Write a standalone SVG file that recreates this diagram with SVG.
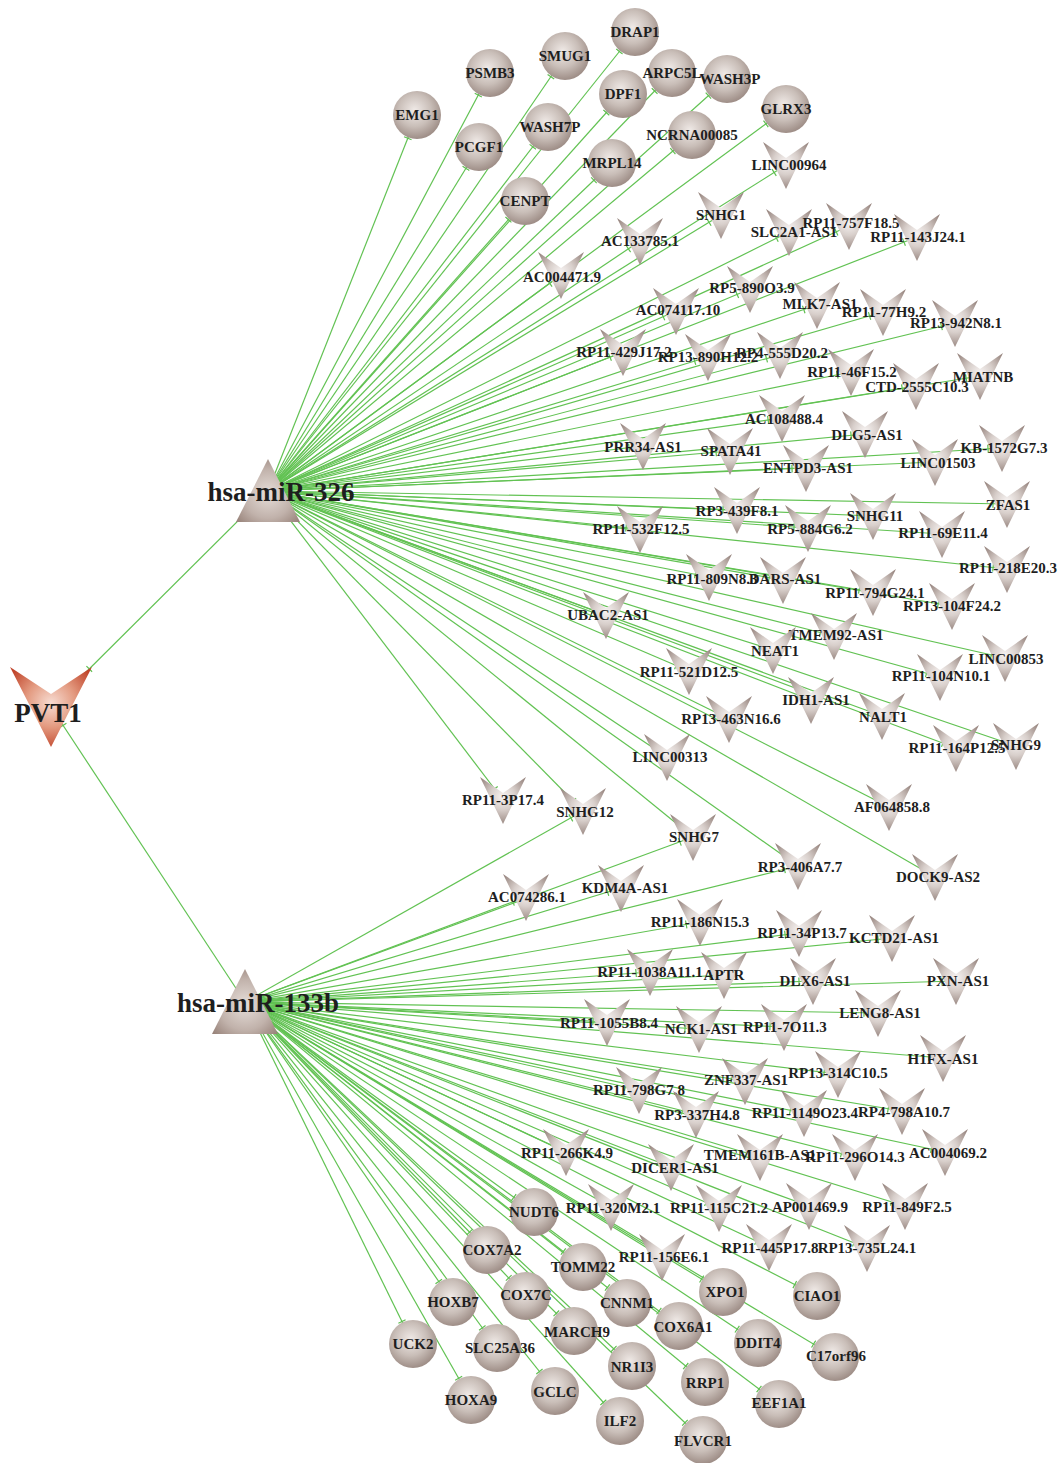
<svg xmlns="http://www.w3.org/2000/svg" xmlns:xlink="http://www.w3.org/1999/xlink" width="1064" height="1463" viewBox="0 0 1064 1463">
<defs>
<radialGradient id="gv" cx="0.5" cy="0.42" r="0.6"><stop offset="0" stop-color="#f7f3f2"/><stop offset="0.45" stop-color="#d8cfcb"/><stop offset="1" stop-color="#988680"/></radialGradient>
<radialGradient id="gc" cx="0.45" cy="0.4" r="0.62"><stop offset="0" stop-color="#f0eae7"/><stop offset="0.55" stop-color="#c9beb8"/><stop offset="1" stop-color="#9b8a83"/></radialGradient>
<radialGradient id="gt" cx="0.5" cy="0.55" r="0.65"><stop offset="0" stop-color="#e6ded9"/><stop offset="0.6" stop-color="#c1b2ab"/><stop offset="1" stop-color="#98837a"/></radialGradient>
<radialGradient id="gp" cx="0.5" cy="0.45" r="0.6"><stop offset="0" stop-color="#f7dcd2"/><stop offset="0.5" stop-color="#e39a80"/><stop offset="1" stop-color="#c0442a"/></radialGradient>
<path id="vs" d="M-23,-23 L0,-7 L23,-23 L0,24 Z" fill="url(#gv)"/>
<marker id="tv" markerUnits="userSpaceOnUse" markerWidth="30" markerHeight="12" refX="15" refY="6" orient="auto"><path d="M1,2 L1,10" stroke="#5fbf50" stroke-width="1.2"/></marker>
<marker id="tc" markerUnits="userSpaceOnUse" markerWidth="30" markerHeight="12" refX="26" refY="6" orient="auto"><path d="M1,2 L1,10" stroke="#5fbf50" stroke-width="1.2"/></marker>
<marker id="tp1" markerUnits="userSpaceOnUse" markerWidth="60" markerHeight="12" refX="55" refY="6" orient="auto"><path d="M1,2 L1,10" stroke="#5fbf50" stroke-width="1.2"/></marker>
<marker id="tp2" markerUnits="userSpaceOnUse" markerWidth="30" markerHeight="12" refX="23" refY="6" orient="auto"><path d="M1,2 L1,10" stroke="#5fbf50" stroke-width="1.2"/></marker>
</defs>
<style>
.e{stroke:#62c253;stroke-width:1.2;fill:none}
.ev{marker-end:url(#tv)}
.ec{marker-end:url(#tc)}
.c{fill:url(#gc)}
.t{font-family:"Liberation Serif","Times New Roman",serif;font-weight:bold;font-size:15px;fill:#1e1e1e;text-anchor:middle}
.b{font-family:"Liberation Serif","Times New Roman",serif;font-weight:bold;font-size:27px;fill:#1e1e1e;text-anchor:middle}
</style>
<rect width="1064" height="1463" fill="#ffffff"/>
<g id="connectors">
<line class="e" x1="268" y1="491" x2="51" y2="707" marker-end="url(#tp1)"/>
<line class="e" x1="245" y1="1002" x2="51" y2="707" marker-end="url(#tp2)"/>
<line class="e ec" x1="268" y1="491" x2="417" y2="115"/>
<line class="e ec" x1="268" y1="491" x2="490" y2="73"/>
<line class="e ec" x1="268" y1="491" x2="565" y2="56"/>
<line class="e ec" x1="268" y1="491" x2="635" y2="32"/>
<line class="e ec" x1="268" y1="491" x2="672" y2="73"/>
<line class="e ec" x1="268" y1="491" x2="727" y2="79"/>
<line class="e ec" x1="268" y1="491" x2="623" y2="94"/>
<line class="e ec" x1="268" y1="491" x2="786" y2="109"/>
<line class="e ec" x1="268" y1="491" x2="479" y2="147"/>
<line class="e ec" x1="268" y1="491" x2="548" y2="127"/>
<line class="e ec" x1="268" y1="491" x2="692" y2="135"/>
<line class="e ec" x1="268" y1="491" x2="612" y2="163"/>
<line class="e ec" x1="268" y1="491" x2="525" y2="201"/>
<line class="e ev" x1="268" y1="491" x2="786" y2="165"/>
<line class="e ev" x1="268" y1="491" x2="721" y2="215"/>
<line class="e ev" x1="268" y1="491" x2="640" y2="241"/>
<line class="e ev" x1="268" y1="491" x2="561" y2="275"/>
<line class="e ev" x1="268" y1="491" x2="789" y2="232"/>
<line class="e ev" x1="268" y1="491" x2="849" y2="226"/>
<line class="e ev" x1="268" y1="491" x2="917" y2="237"/>
<line class="e ev" x1="268" y1="491" x2="750" y2="289"/>
<line class="e ev" x1="268" y1="491" x2="676" y2="311"/>
<line class="e ev" x1="268" y1="491" x2="817" y2="305"/>
<line class="e ev" x1="268" y1="491" x2="883" y2="312"/>
<line class="e ev" x1="268" y1="491" x2="955" y2="323"/>
<line class="e ev" x1="268" y1="491" x2="623" y2="352"/>
<line class="e ev" x1="268" y1="491" x2="708" y2="357"/>
<line class="e ev" x1="268" y1="491" x2="780" y2="355"/>
<line class="e ev" x1="268" y1="491" x2="851" y2="372"/>
<line class="e ev" x1="268" y1="491" x2="916" y2="386"/>
<line class="e ev" x1="268" y1="491" x2="980" y2="376"/>
<line class="e ev" x1="268" y1="491" x2="782" y2="418"/>
<line class="e ev" x1="268" y1="491" x2="865" y2="434"/>
<line class="e ev" x1="268" y1="491" x2="1002" y2="448"/>
<line class="e ev" x1="268" y1="491" x2="935" y2="462"/>
<line class="e ev" x1="268" y1="491" x2="643" y2="446"/>
<line class="e ev" x1="268" y1="491" x2="730" y2="451"/>
<line class="e ev" x1="268" y1="491" x2="806" y2="468"/>
<line class="e ev" x1="268" y1="491" x2="1007" y2="504"/>
<line class="e ev" x1="268" y1="491" x2="737" y2="510"/>
<line class="e ev" x1="268" y1="491" x2="640" y2="529"/>
<line class="e ev" x1="268" y1="491" x2="808" y2="528"/>
<line class="e ev" x1="268" y1="491" x2="873" y2="516"/>
<line class="e ev" x1="268" y1="491" x2="942" y2="534"/>
<line class="e ev" x1="268" y1="491" x2="1007" y2="569"/>
<line class="e ev" x1="268" y1="491" x2="709" y2="577"/>
<line class="e ev" x1="268" y1="491" x2="783" y2="580"/>
<line class="e ev" x1="268" y1="491" x2="873" y2="592"/>
<line class="e ev" x1="268" y1="491" x2="952" y2="606"/>
<line class="e ev" x1="268" y1="491" x2="606" y2="615"/>
<line class="e ev" x1="268" y1="491" x2="834" y2="636"/>
<line class="e ev" x1="268" y1="491" x2="773" y2="650"/>
<line class="e ev" x1="268" y1="491" x2="1005" y2="658"/>
<line class="e ev" x1="268" y1="491" x2="689" y2="671"/>
<line class="e ev" x1="268" y1="491" x2="940" y2="677"/>
<line class="e ev" x1="268" y1="491" x2="811" y2="700"/>
<line class="e ev" x1="268" y1="491" x2="882" y2="716"/>
<line class="e ev" x1="268" y1="491" x2="729" y2="719"/>
<line class="e ev" x1="268" y1="491" x2="956" y2="748"/>
<line class="e ev" x1="268" y1="491" x2="1016" y2="746"/>
<line class="e ev" x1="268" y1="491" x2="667" y2="757"/>
<line class="e ev" x1="268" y1="491" x2="889" y2="807"/>
<line class="e ev" x1="268" y1="491" x2="503" y2="800"/>
<line class="e ev" x1="268" y1="491" x2="583" y2="811"/>
<line class="e ev" x1="268" y1="491" x2="693" y2="837"/>
<line class="e ev" x1="268" y1="491" x2="798" y2="866"/>
<line class="e ev" x1="268" y1="491" x2="935" y2="877"/>
<line class="e ev" x1="245" y1="1002" x2="583" y2="811"/>
<line class="e ev" x1="245" y1="1002" x2="693" y2="837"/>
<line class="e ev" x1="245" y1="1002" x2="798" y2="866"/>
<line class="e ev" x1="245" y1="1002" x2="526" y2="897"/>
<line class="e ev" x1="245" y1="1002" x2="621" y2="888"/>
<line class="e ev" x1="245" y1="1002" x2="700" y2="922"/>
<line class="e ev" x1="245" y1="1002" x2="799" y2="933"/>
<line class="e ev" x1="245" y1="1002" x2="892" y2="938"/>
<line class="e ev" x1="245" y1="1002" x2="650" y2="972"/>
<line class="e ev" x1="245" y1="1002" x2="724" y2="975"/>
<line class="e ev" x1="245" y1="1002" x2="813" y2="981"/>
<line class="e ev" x1="245" y1="1002" x2="956" y2="981"/>
<line class="e ev" x1="245" y1="1002" x2="878" y2="1013"/>
<line class="e ev" x1="245" y1="1002" x2="607" y2="1022"/>
<line class="e ev" x1="245" y1="1002" x2="699" y2="1029"/>
<line class="e ev" x1="245" y1="1002" x2="784" y2="1027"/>
<line class="e ev" x1="245" y1="1002" x2="943" y2="1058"/>
<line class="e ev" x1="245" y1="1002" x2="639" y2="1090"/>
<line class="e ev" x1="245" y1="1002" x2="745" y2="1081"/>
<line class="e ev" x1="245" y1="1002" x2="838" y2="1074"/>
<line class="e ev" x1="245" y1="1002" x2="696" y2="1114"/>
<line class="e ev" x1="245" y1="1002" x2="804" y2="1113"/>
<line class="e ev" x1="245" y1="1002" x2="902" y2="1111"/>
<line class="e ev" x1="245" y1="1002" x2="945" y2="1152"/>
<line class="e ev" x1="245" y1="1002" x2="566" y2="1152"/>
<line class="e ev" x1="245" y1="1002" x2="671" y2="1167"/>
<line class="e ev" x1="245" y1="1002" x2="760" y2="1157"/>
<line class="e ev" x1="245" y1="1002" x2="855" y2="1157"/>
<line class="e ev" x1="245" y1="1002" x2="611" y2="1207"/>
<line class="e ev" x1="245" y1="1002" x2="719" y2="1208"/>
<line class="e ev" x1="245" y1="1002" x2="809" y2="1206"/>
<line class="e ev" x1="245" y1="1002" x2="905" y2="1206"/>
<line class="e ev" x1="245" y1="1002" x2="662" y2="1257"/>
<line class="e ev" x1="245" y1="1002" x2="769" y2="1247"/>
<line class="e ev" x1="245" y1="1002" x2="867" y2="1248"/>
<line class="e ec" x1="245" y1="1002" x2="534" y2="1212"/>
<line class="e ec" x1="245" y1="1002" x2="487" y2="1250"/>
<line class="e ec" x1="245" y1="1002" x2="583" y2="1267"/>
<line class="e ec" x1="245" y1="1002" x2="723" y2="1292"/>
<line class="e ec" x1="245" y1="1002" x2="817" y2="1296"/>
<line class="e ec" x1="245" y1="1002" x2="453" y2="1302"/>
<line class="e ec" x1="245" y1="1002" x2="526" y2="1296"/>
<line class="e ec" x1="245" y1="1002" x2="627" y2="1303"/>
<line class="e ec" x1="245" y1="1002" x2="413" y2="1344"/>
<line class="e ec" x1="245" y1="1002" x2="497" y2="1348"/>
<line class="e ec" x1="245" y1="1002" x2="574" y2="1331"/>
<line class="e ec" x1="245" y1="1002" x2="679" y2="1326"/>
<line class="e ec" x1="245" y1="1002" x2="758" y2="1343"/>
<line class="e ec" x1="245" y1="1002" x2="835" y2="1357"/>
<line class="e ec" x1="245" y1="1002" x2="632" y2="1366"/>
<line class="e ec" x1="245" y1="1002" x2="705" y2="1382"/>
<line class="e ec" x1="245" y1="1002" x2="471" y2="1400"/>
<line class="e ec" x1="245" y1="1002" x2="555" y2="1391"/>
<line class="e ec" x1="245" y1="1002" x2="779" y2="1404"/>
<line class="e ec" x1="245" y1="1002" x2="620" y2="1421"/>
<line class="e ec" x1="245" y1="1002" x2="703" y2="1440"/>
</g>
<g id="n-PVT1"><path d="M10,667 L51,694 L92,667 L51,747 Z" fill="url(#gp)"/><text class="b" x="48" y="722">PVT1</text></g>
<g id="n-hsa-miR-326"><path d="M268,459 L300,522 L236,522 Z" fill="url(#gt)"/><text class="b" x="281" y="501">hsa-miR-326</text></g>
<g id="n-hsa-miR-133b"><path d="M245,969 L278,1034 L212,1034 Z" fill="url(#gt)"/><text class="b" x="258" y="1012">hsa-miR-133b</text></g>
<g id="n-EMG1"><circle class="c" cx="417" cy="115" r="24"/><text class="t" x="417" y="120">EMG1</text></g>
<g id="n-PSMB3"><circle class="c" cx="490" cy="73" r="24"/><text class="t" x="490" y="78">PSMB3</text></g>
<g id="n-SMUG1"><circle class="c" cx="565" cy="56" r="24"/><text class="t" x="565" y="61">SMUG1</text></g>
<g id="n-DRAP1"><circle class="c" cx="635" cy="32" r="24"/><text class="t" x="635" y="37">DRAP1</text></g>
<g id="n-ARPC5L"><circle class="c" cx="672" cy="73" r="24"/><text class="t" x="672" y="78">ARPC5L</text></g>
<g id="n-WASH3P"><circle class="c" cx="727" cy="79" r="24"/><text class="t" x="730" y="84">WASH3P</text></g>
<g id="n-DPF1"><circle class="c" cx="623" cy="94" r="24"/><text class="t" x="623" y="99">DPF1</text></g>
<g id="n-GLRX3"><circle class="c" cx="786" cy="109" r="24"/><text class="t" x="786" y="114">GLRX3</text></g>
<g id="n-PCGF1"><circle class="c" cx="479" cy="147" r="24"/><text class="t" x="479" y="152">PCGF1</text></g>
<g id="n-WASH7P"><circle class="c" cx="548" cy="127" r="24"/><text class="t" x="550" y="132">WASH7P</text></g>
<g id="n-NCRNA00085"><circle class="c" cx="692" cy="135" r="24"/><text class="t" x="692" y="140">NCRNA00085</text></g>
<g id="n-MRPL14"><circle class="c" cx="612" cy="163" r="24"/><text class="t" x="612" y="168">MRPL14</text></g>
<g id="n-CENPT"><circle class="c" cx="525" cy="201" r="24"/><text class="t" x="525" y="206">CENPT</text></g>
<g id="n-LINC00964"><use href="#vs" x="786" y="165"/><text class="t" x="789" y="170">LINC00964</text></g>
<g id="n-SNHG1"><use href="#vs" x="721" y="215"/><text class="t" x="721" y="220">SNHG1</text></g>
<g id="n-AC133785.1"><use href="#vs" x="640" y="241"/><text class="t" x="640" y="246">AC133785.1</text></g>
<g id="n-AC004471.9"><use href="#vs" x="561" y="275"/><text class="t" x="562" y="282">AC004471.9</text></g>
<g id="n-SLC2A1-AS1"><use href="#vs" x="789" y="232"/><text class="t" x="794" y="237">SLC2A1-AS1</text></g>
<g id="n-RP11-757F18.5"><use href="#vs" x="849" y="226"/><text class="t" x="851" y="228">RP11-757F18.5</text></g>
<g id="n-RP11-143J24.1"><use href="#vs" x="917" y="237"/><text class="t" x="918" y="242">RP11-143J24.1</text></g>
<g id="n-RP5-890O3.9"><use href="#vs" x="750" y="289"/><text class="t" x="752" y="293">RP5-890O3.9</text></g>
<g id="n-AC074117.10"><use href="#vs" x="676" y="311"/><text class="t" x="678" y="315">AC074117.10</text></g>
<g id="n-MLK7-AS1"><use href="#vs" x="817" y="305"/><text class="t" x="820" y="309">MLK7-AS1</text></g>
<g id="n-RP11-77H9.2"><use href="#vs" x="883" y="312"/><text class="t" x="884" y="317">RP11-77H9.2</text></g>
<g id="n-RP13-942N8.1"><use href="#vs" x="955" y="323"/><text class="t" x="956" y="328">RP13-942N8.1</text></g>
<g id="n-RP11-429J17.2"><use href="#vs" x="623" y="352"/><text class="t" x="624" y="357">RP11-429J17.2</text></g>
<g id="n-RP13-890H12.2"><use href="#vs" x="708" y="357"/><text class="t" x="708" y="362">RP13-890H12.2</text></g>
<g id="n-RP4-555D20.2"><use href="#vs" x="780" y="355"/><text class="t" x="782" y="358">RP4-555D20.2</text></g>
<g id="n-RP11-46F15.2"><use href="#vs" x="851" y="372"/><text class="t" x="852" y="377">RP11-46F15.2</text></g>
<g id="n-CTD-2555C10.3"><use href="#vs" x="916" y="386"/><text class="t" x="917" y="392">CTD-2555C10.3</text></g>
<g id="n-MIATNB"><use href="#vs" x="980" y="376"/><text class="t" x="983" y="382">MIATNB</text></g>
<g id="n-AC108488.4"><use href="#vs" x="782" y="418"/><text class="t" x="784" y="424">AC108488.4</text></g>
<g id="n-DLG5-AS1"><use href="#vs" x="865" y="434"/><text class="t" x="867" y="440">DLG5-AS1</text></g>
<g id="n-KB-1572G7.3"><use href="#vs" x="1002" y="448"/><text class="t" x="1004" y="453">KB-1572G7.3</text></g>
<g id="n-LINC01503"><use href="#vs" x="935" y="462"/><text class="t" x="938" y="468">LINC01503</text></g>
<g id="n-PRR34-AS1"><use href="#vs" x="643" y="446"/><text class="t" x="643" y="452">PRR34-AS1</text></g>
<g id="n-SPATA41"><use href="#vs" x="730" y="451"/><text class="t" x="731" y="456">SPATA41</text></g>
<g id="n-ENTPD3-AS1"><use href="#vs" x="806" y="468"/><text class="t" x="808" y="473">ENTPD3-AS1</text></g>
<g id="n-ZFAS1"><use href="#vs" x="1007" y="504"/><text class="t" x="1008" y="510">ZFAS1</text></g>
<g id="n-RP3-439F8.1"><use href="#vs" x="737" y="510"/><text class="t" x="737" y="516">RP3-439F8.1</text></g>
<g id="n-RP11-532F12.5"><use href="#vs" x="640" y="529"/><text class="t" x="641" y="534">RP11-532F12.5</text></g>
<g id="n-RP5-884G6.2"><use href="#vs" x="808" y="528"/><text class="t" x="810" y="534">RP5-884G6.2</text></g>
<g id="n-SNHG11"><use href="#vs" x="873" y="516"/><text class="t" x="875" y="521">SNHG11</text></g>
<g id="n-RP11-69E11.4"><use href="#vs" x="942" y="534"/><text class="t" x="943" y="538">RP11-69E11.4</text></g>
<g id="n-RP11-218E20.3"><use href="#vs" x="1007" y="569"/><text class="t" x="1008" y="573">RP11-218E20.3</text></g>
<g id="n-RP11-809N8.3"><use href="#vs" x="709" y="577"/><text class="t" x="712" y="584">RP11-809N8.3</text></g>
<g id="n-DARS-AS1"><use href="#vs" x="783" y="580"/><text class="t" x="785" y="584">DARS-AS1</text></g>
<g id="n-RP11-794G24.1"><use href="#vs" x="873" y="592"/><text class="t" x="875" y="598">RP11-794G24.1</text></g>
<g id="n-RP13-104F24.2"><use href="#vs" x="952" y="606"/><text class="t" x="952" y="611">RP13-104F24.2</text></g>
<g id="n-UBAC2-AS1"><use href="#vs" x="606" y="615"/><text class="t" x="608" y="620">UBAC2-AS1</text></g>
<g id="n-TMEM92-AS1"><use href="#vs" x="834" y="636"/><text class="t" x="836" y="640">TMEM92-AS1</text></g>
<g id="n-NEAT1"><use href="#vs" x="773" y="650"/><text class="t" x="775" y="656">NEAT1</text></g>
<g id="n-LINC00853"><use href="#vs" x="1005" y="658"/><text class="t" x="1006" y="664">LINC00853</text></g>
<g id="n-RP11-521D12.5"><use href="#vs" x="689" y="671"/><text class="t" x="689" y="677">RP11-521D12.5</text></g>
<g id="n-RP11-104N10.1"><use href="#vs" x="940" y="677"/><text class="t" x="941" y="681">RP11-104N10.1</text></g>
<g id="n-IDH1-AS1"><use href="#vs" x="811" y="700"/><text class="t" x="816" y="705">IDH1-AS1</text></g>
<g id="n-NALT1"><use href="#vs" x="882" y="716"/><text class="t" x="883" y="722">NALT1</text></g>
<g id="n-RP13-463N16.6"><use href="#vs" x="729" y="719"/><text class="t" x="731" y="724">RP13-463N16.6</text></g>
<g id="n-RP11-164P12.5"><use href="#vs" x="956" y="748"/><text class="t" x="957" y="753">RP11-164P12.5</text></g>
<g id="n-SNHG9"><use href="#vs" x="1016" y="746"/><text class="t" x="1016" y="750">SNHG9</text></g>
<g id="n-LINC00313"><use href="#vs" x="667" y="757"/><text class="t" x="670" y="762">LINC00313</text></g>
<g id="n-AF064858.8"><use href="#vs" x="889" y="807"/><text class="t" x="892" y="812">AF064858.8</text></g>
<g id="n-RP11-3P17.4"><use href="#vs" x="503" y="800"/><text class="t" x="503" y="805">RP11-3P17.4</text></g>
<g id="n-SNHG12"><use href="#vs" x="583" y="811"/><text class="t" x="585" y="817">SNHG12</text></g>
<g id="n-SNHG7"><use href="#vs" x="693" y="837"/><text class="t" x="694" y="842">SNHG7</text></g>
<g id="n-RP3-406A7.7"><use href="#vs" x="798" y="866"/><text class="t" x="800" y="872">RP3-406A7.7</text></g>
<g id="n-DOCK9-AS2"><use href="#vs" x="935" y="877"/><text class="t" x="938" y="882">DOCK9-AS2</text></g>
<g id="n-AC074286.1"><use href="#vs" x="526" y="897"/><text class="t" x="527" y="902">AC074286.1</text></g>
<g id="n-KDM4A-AS1"><use href="#vs" x="621" y="888"/><text class="t" x="625" y="893">KDM4A-AS1</text></g>
<g id="n-RP11-186N15.3"><use href="#vs" x="700" y="922"/><text class="t" x="700" y="927">RP11-186N15.3</text></g>
<g id="n-RP11-34P13.7"><use href="#vs" x="799" y="933"/><text class="t" x="802" y="938">RP11-34P13.7</text></g>
<g id="n-KCTD21-AS1"><use href="#vs" x="892" y="938"/><text class="t" x="894" y="943">KCTD21-AS1</text></g>
<g id="n-RP11-1038A11.1"><use href="#vs" x="650" y="972"/><text class="t" x="650" y="977">RP11-1038A11.1</text></g>
<g id="n-APTR"><use href="#vs" x="724" y="975"/><text class="t" x="724" y="980">APTR</text></g>
<g id="n-DLX6-AS1"><use href="#vs" x="813" y="981"/><text class="t" x="815" y="986">DLX6-AS1</text></g>
<g id="n-PXN-AS1"><use href="#vs" x="956" y="981"/><text class="t" x="958" y="986">PXN-AS1</text></g>
<g id="n-LENG8-AS1"><use href="#vs" x="878" y="1013"/><text class="t" x="880" y="1018">LENG8-AS1</text></g>
<g id="n-RP11-1055B8.4"><use href="#vs" x="607" y="1022"/><text class="t" x="609" y="1028">RP11-1055B8.4</text></g>
<g id="n-NCK1-AS1"><use href="#vs" x="699" y="1029"/><text class="t" x="701" y="1034">NCK1-AS1</text></g>
<g id="n-RP11-7O11.3"><use href="#vs" x="784" y="1027"/><text class="t" x="785" y="1032">RP11-7O11.3</text></g>
<g id="n-H1FX-AS1"><use href="#vs" x="943" y="1058"/><text class="t" x="943" y="1064">H1FX-AS1</text></g>
<g id="n-RP11-798G7.8"><use href="#vs" x="639" y="1090"/><text class="t" x="639" y="1095">RP11-798G7.8</text></g>
<g id="n-ZNF337-AS1"><use href="#vs" x="745" y="1081"/><text class="t" x="746" y="1085">ZNF337-AS1</text></g>
<g id="n-RP13-314C10.5"><use href="#vs" x="838" y="1074"/><text class="t" x="838" y="1078">RP13-314C10.5</text></g>
<g id="n-RP3-337H4.8"><use href="#vs" x="696" y="1114"/><text class="t" x="697" y="1120">RP3-337H4.8</text></g>
<g id="n-RP11-1149O23.4"><use href="#vs" x="804" y="1113"/><text class="t" x="805" y="1118">RP11-1149O23.4</text></g>
<g id="n-RP4-798A10.7"><use href="#vs" x="902" y="1111"/><text class="t" x="904" y="1117">RP4-798A10.7</text></g>
<g id="n-AC004069.2"><use href="#vs" x="945" y="1152"/><text class="t" x="948" y="1158">AC004069.2</text></g>
<g id="n-RP11-266K4.9"><use href="#vs" x="566" y="1152"/><text class="t" x="567" y="1158">RP11-266K4.9</text></g>
<g id="n-DICER1-AS1"><use href="#vs" x="671" y="1167"/><text class="t" x="675" y="1173">DICER1-AS1</text></g>
<g id="n-TMEM161B-AS1"><use href="#vs" x="760" y="1157"/><text class="t" x="760" y="1160">TMEM161B-AS1</text></g>
<g id="n-RP11-296O14.3"><use href="#vs" x="855" y="1157"/><text class="t" x="855" y="1162">RP11-296O14.3</text></g>
<g id="n-RP11-320M2.1"><use href="#vs" x="611" y="1207"/><text class="t" x="613" y="1213">RP11-320M2.1</text></g>
<g id="n-RP11-115C21.2"><use href="#vs" x="719" y="1208"/><text class="t" x="719" y="1213">RP11-115C21.2</text></g>
<g id="n-AP001469.9"><use href="#vs" x="809" y="1206"/><text class="t" x="810" y="1212">AP001469.9</text></g>
<g id="n-RP11-849F2.5"><use href="#vs" x="905" y="1206"/><text class="t" x="907" y="1212">RP11-849F2.5</text></g>
<g id="n-RP11-156E6.1"><use href="#vs" x="662" y="1257"/><text class="t" x="664" y="1262">RP11-156E6.1</text></g>
<g id="n-RP11-445P17.8"><use href="#vs" x="769" y="1247"/><text class="t" x="770" y="1253">RP11-445P17.8</text></g>
<g id="n-RP13-735L24.1"><use href="#vs" x="867" y="1248"/><text class="t" x="867" y="1253">RP13-735L24.1</text></g>
<g id="n-NUDT6"><circle class="c" cx="534" cy="1212" r="24"/><text class="t" x="534" y="1217">NUDT6</text></g>
<g id="n-COX7A2"><circle class="c" cx="487" cy="1250" r="24"/><text class="t" x="492" y="1255">COX7A2</text></g>
<g id="n-TOMM22"><circle class="c" cx="583" cy="1267" r="24"/><text class="t" x="583" y="1272">TOMM22</text></g>
<g id="n-XPO1"><circle class="c" cx="723" cy="1292" r="24"/><text class="t" x="725" y="1297">XPO1</text></g>
<g id="n-CIAO1"><circle class="c" cx="817" cy="1296" r="24"/><text class="t" x="817" y="1301">CIAO1</text></g>
<g id="n-HOXB7"><circle class="c" cx="453" cy="1302" r="24"/><text class="t" x="453" y="1307">HOXB7</text></g>
<g id="n-COX7C"><circle class="c" cx="526" cy="1296" r="24"/><text class="t" x="526" y="1300">COX7C</text></g>
<g id="n-CNNM1"><circle class="c" cx="627" cy="1303" r="24"/><text class="t" x="627" y="1308">CNNM1</text></g>
<g id="n-UCK2"><circle class="c" cx="413" cy="1344" r="24"/><text class="t" x="413" y="1349">UCK2</text></g>
<g id="n-SLC25A36"><circle class="c" cx="497" cy="1348" r="24"/><text class="t" x="500" y="1353">SLC25A36</text></g>
<g id="n-MARCH9"><circle class="c" cx="574" cy="1331" r="24"/><text class="t" x="577" y="1337">MARCH9</text></g>
<g id="n-COX6A1"><circle class="c" cx="679" cy="1326" r="24"/><text class="t" x="683" y="1332">COX6A1</text></g>
<g id="n-DDIT4"><circle class="c" cx="758" cy="1343" r="24"/><text class="t" x="758" y="1348">DDIT4</text></g>
<g id="n-C17orf96"><circle class="c" cx="835" cy="1357" r="24"/><text class="t" x="836" y="1361">C17orf96</text></g>
<g id="n-NR1I3"><circle class="c" cx="632" cy="1366" r="24"/><text class="t" x="632" y="1372">NR1I3</text></g>
<g id="n-RRP1"><circle class="c" cx="705" cy="1382" r="24"/><text class="t" x="705" y="1388">RRP1</text></g>
<g id="n-HOXA9"><circle class="c" cx="471" cy="1400" r="24"/><text class="t" x="471" y="1405">HOXA9</text></g>
<g id="n-GCLC"><circle class="c" cx="555" cy="1391" r="24"/><text class="t" x="555" y="1397">GCLC</text></g>
<g id="n-EEF1A1"><circle class="c" cx="779" cy="1404" r="24"/><text class="t" x="779" y="1408">EEF1A1</text></g>
<g id="n-ILF2"><circle class="c" cx="620" cy="1421" r="24"/><text class="t" x="620" y="1426">ILF2</text></g>
<g id="n-FLVCR1"><circle class="c" cx="703" cy="1440" r="24"/><text class="t" x="703" y="1446">FLVCR1</text></g>
</svg>
